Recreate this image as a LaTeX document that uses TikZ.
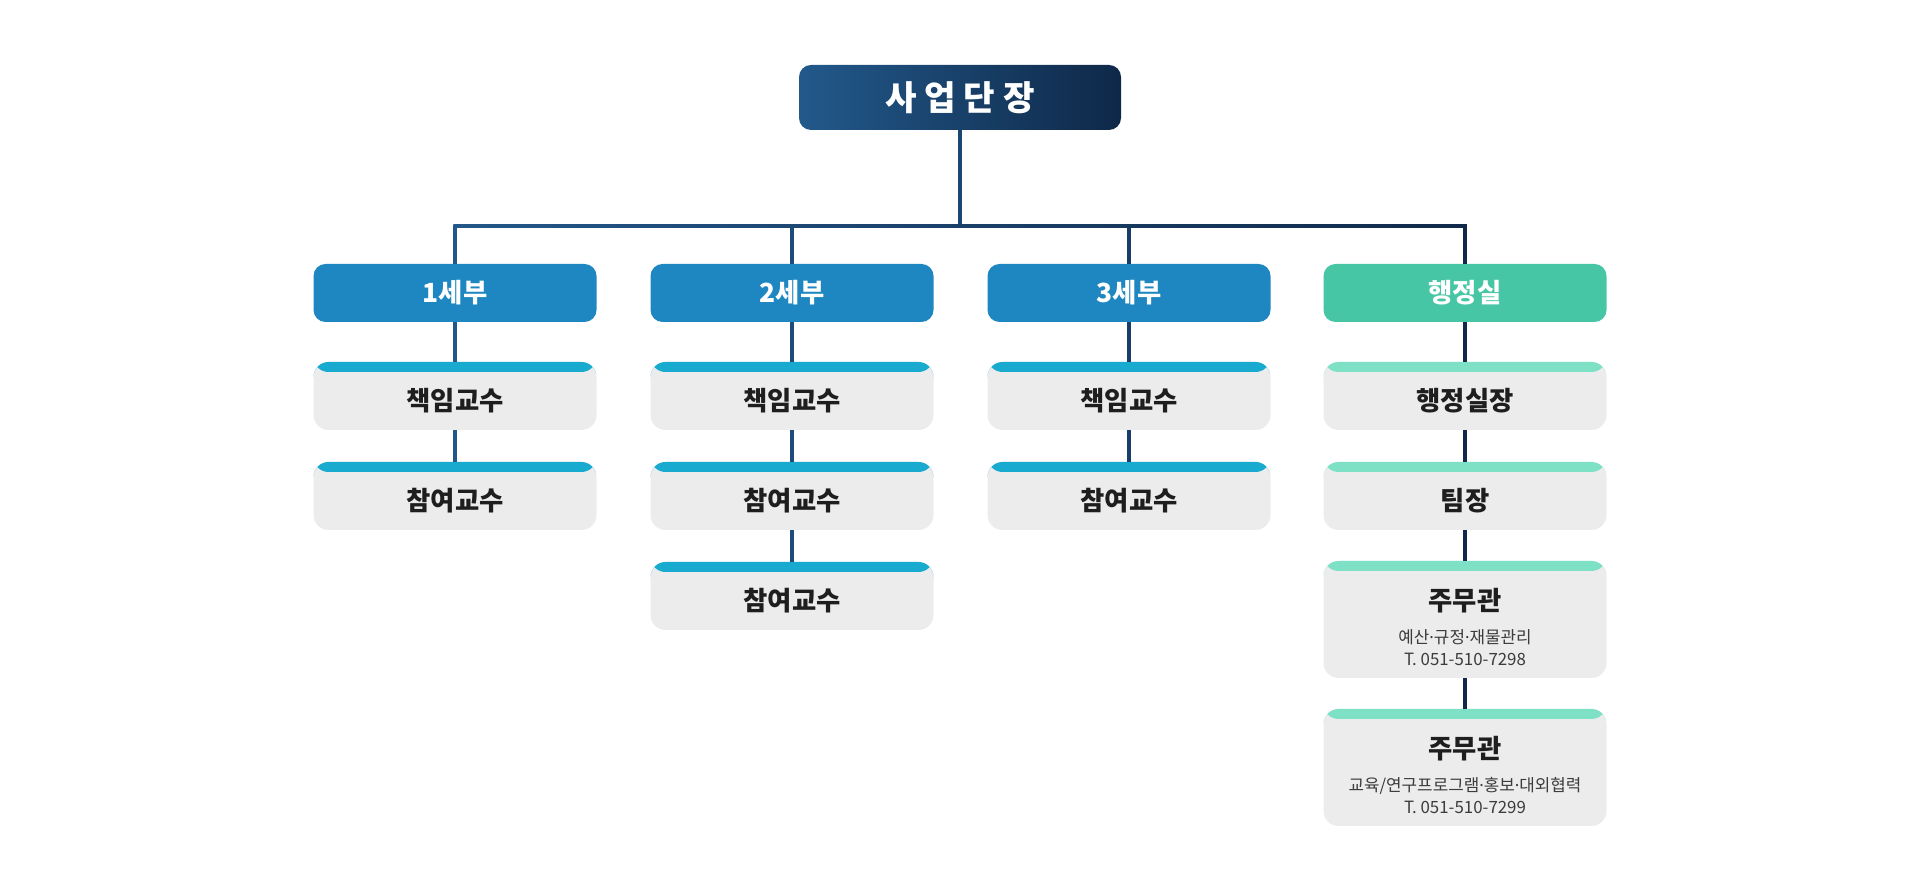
\documentclass[tikz,border=0pt]{standalone}
\usepackage{fontspec}
\setmainfont{Noto Sans CJK KR}[BoldFont=Noto Sans CJK KR Black]
\newfontfamily\dotfont{Noto Sans}
\usepackage{tikz}

\definecolor{topleft}{HTML}{22598B}
\definecolor{topright}{HTML}{0F2848}
\definecolor{headblue}{HTML}{1E86C0}
\definecolor{admingreen}{HTML}{47C6A5}
\definecolor{bandteal}{HTML}{18ABCF}
\definecolor{bandmint}{HTML}{7EE1C5}
\definecolor{boxgray}{HTML}{ECECEC}
\definecolor{textdark}{HTML}{1E1E1E}
\definecolor{notegray}{HTML}{3C3C3C}
\definecolor{linea}{HTML}{235789}
\definecolor{lineb}{HTML}{1D4B7A}
\definecolor{linemid}{HTML}{1A4674}
\definecolor{linec}{HTML}{173E68}
\definecolor{lined}{HTML}{10294A}

\newcommand\memberfont{\bfseries\fontsize{15}{17}\selectfont}
\newcommand\notefont{\fontsize{9.6}{12.5}\selectfont}
\newcommand\middot{{\dotfont ·}}

\tikzset{
    conn/.style={line width=0.07cm, draw=#1},
    topbox/.style={rounded corners=0.24cm, minimum width=6.44cm, minimum height=1.3cm,
        left color=topleft, right color=topright, text=white,
        font=\bfseries\fontsize{19.5}{21}\selectfont},
    headbox/.style={rounded corners=0.24cm, minimum width=5.66cm, minimum height=1.16cm,
        fill=#1, text=white, font=\memberfont},
    subbox/.style={rounded corners=0.3cm, minimum width=5.66cm, minimum height=1.36cm,
        fill=boxgray, text=textdark, font=\memberfont, text height=0.65cm, text depth=0.05cm,
        path picture={\fill[#1] (path picture bounding box.north west)
            rectangle ([yshift=-0.2cm]path picture bounding box.north east);}},
    notetext/.style={align=center, text=notegray, font=\notefont},
}

\begin{document}
\begin{tikzpicture}
    \useasboundingbox (0,0) rectangle (38.4,17.82);

    % Draw the head
    \node[topbox] (head) at (19.2,15.87) {사 업 단 장};

    % Draw the groups
    \node[headbox=headblue] (g1) at (9.1,11.96) {1세부};
    \node[headbox=headblue] (g2) at (15.84,11.96) {2세부};
    \node[headbox=headblue] (g3) at (22.58,11.96) {3세부};
    \node[headbox=admingreen] (g4) at (29.3,11.96) {행정실};

    % Draw the members
    \node[subbox=bandteal] (g1a) at (9.1,9.9) {책임교수};
    \node[subbox=bandteal] (g1b) at (9.1,7.9) {참여교수};
    \node[subbox=bandteal] (g2a) at (15.84,9.9) {책임교수};
    \node[subbox=bandteal] (g2b) at (15.84,7.9) {참여교수};
    \node[subbox=bandteal] (g2c) at (15.84,5.9) {참여교수};
    \node[subbox=bandteal] (g3a) at (22.58,9.9) {책임교수};
    \node[subbox=bandteal] (g3b) at (22.58,7.9) {참여교수};
    \node[subbox=bandmint] (g4a) at (29.3,9.9) {행정실장};
    \node[subbox=bandmint] (g4b) at (29.3,7.9) {팀장};
    \node[subbox=bandmint, minimum height=2.34cm] (g4c) at (29.3,5.43) {};
    \node[subbox=bandmint, minimum height=2.34cm] (g4d) at (29.3,2.47) {};
    \node[notetext] (g4cnote) at ([yshift=-0.15cm]g4c.center)
        {{\memberfont\color{textdark}주무관}\\[6pt]예산\middot 규정\middot 재물관리\\T. 051-510-7298};
    \node[notetext] (g4dnote) at ([yshift=-0.15cm]g4d.center)
        {{\memberfont\color{textdark}주무관}\\[6pt]교육/연구프로그램\middot 홍보\middot 대외협력\\T. 051-510-7299};

    % Draw the bus
    \coordinate (bus) at (0,13.3);
    \coordinate (busl) at (g1.north |- bus);
    \coordinate (busr) at (g4.north |- bus);
    \draw[conn=linemid] (head.south) -- (head.south |- bus);
    \draw[conn=linea] (g1.north) -- (busl);
    \draw[conn=lineb] (g2.north) -- (g2.north |- bus);
    \draw[conn=linec] (g3.north) -- (g3.north |- bus);
    \draw[conn=lined] (g4.north) -- (busr);
    \shade[left color=linea, right color=lined]
        ([shift={(-0.035,-0.035)}]busl) rectangle ([shift={(0.035,0.035)}]busr);

    % Draw the column lines
    \draw[conn=linea] (g1.south) -- (g1a.north);
    \draw[conn=linea] (g1a.south) -- (g1b.north);
    \draw[conn=lineb] (g2.south) -- (g2a.north);
    \draw[conn=lineb] (g2a.south) -- (g2b.north);
    \draw[conn=lineb] (g2b.south) -- (g2c.north);
    \draw[conn=linec] (g3.south) -- (g3a.north);
    \draw[conn=linec] (g3a.south) -- (g3b.north);
    \draw[conn=lined] (g4.south) -- (g4a.north);
    \draw[conn=lined] (g4a.south) -- (g4b.north);
    \draw[conn=lined] (g4b.south) -- (g4c.north);
    \draw[conn=lined] (g4c.south) -- (g4d.north);
\end{tikzpicture}
\end{document}
